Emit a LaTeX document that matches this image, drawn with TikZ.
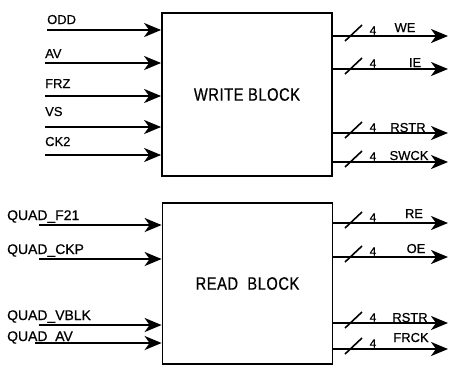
\documentclass[tikz,border=0pt]{standalone}
\usepackage{fontspec}
\setmainfont[FakeBold=0.6]{Liberation Sans}
\newfontfamily\blockfont[LetterSpace=3,FakeStretch=0.82,FakeBold=0.6]{Liberation Sans}
\usetikzlibrary{arrows.meta}
\begin{document}
\begin{tikzpicture}[x=1bp,y=-1bp,
  block/.style={draw, line width=1.8bp, inner sep=0pt, minimum width=170bp,
    font=\blockfont\fontsize{18}{20}\selectfont},
  sig/.style={line width=2bp, -{Stealth[length=17bp,width=14bp,inset=5bp]}},
  lbl/.style={font=\fontsize{13}{15}\selectfont, inner sep=0pt},
  qlbl/.style={lbl, font=\fontsize{14}{16}\selectfont},
  buswidth/.pic={
    \draw[line width=1.6bp] (-8,5) -- (9,-11);
    \node[lbl, font=\fontsize{12}{14}\selectfont, anchor=base] at (20,-1.5) {4};
  }]
\useasboundingbox (0,0) rectangle (450,367);

% blocks
\node[block, minimum height=163bp] (wb) at (247,94.5) {WRITE BLOCK};
\node[block, minimum height=161bp] (rb) at (247.5,283.5) {READ\ \ BLOCK};

% write inputs
\coordinate (iodd) at (47,30);
\coordinate (iav)  at (45,63);
\coordinate (ifrz) at (45,96);
\coordinate (ivs)  at (45,127);
\coordinate (ick)  at (45,155);
\draw[sig] (iodd) -- (iodd -| wb.west);
\draw[sig] (iav)  -- (iav  -| wb.west);
\draw[sig] (ifrz) -- (ifrz -| wb.west);
\draw[sig] (ivs)  -- (ivs  -| wb.west);
\draw[sig] (ick)  -- (ick  -| wb.west);
\node[lbl, anchor=base west] (lodd) at (47,24) {ODD};
\node[lbl, anchor=base west] (lav)  at (45,58) {AV};
\node[lbl, anchor=base west] (lfrz) at (45,88) {FRZ};
\node[lbl, anchor=base west] (lvs)  at (45,116) {VS};
\node[lbl, anchor=base west] (lck)  at (45,146) {CK2};

% write outputs
\coordinate (owe)  at (448,36);
\coordinate (oie)  at (448,69);
\coordinate (ors)  at (448,133);
\coordinate (osw)  at (448,162);
\draw[sig] (owe -| wb.east) -- (owe);
\draw[sig] (oie -| wb.east) -- (oie);
\draw[sig] (ors -| wb.east) -- (ors);
\draw[sig] (osw -| wb.east) -- (osw);
\pic at (353,36) {buswidth};
\pic at (353,69) {buswidth};
\pic at (353,133) {buswidth};
\pic at (353,162) {buswidth};
\node[lbl, anchor=base] (lwe) at (405,32) {WE};
\node[lbl, anchor=base] (lie) at (415,67) {IE};
\node[lbl, anchor=base] (lrs) at (408,132) {RSTR};
\node[lbl, anchor=base] (lsw) at (409,160) {SWCK};

% read inputs
\coordinate (if21)  at (39,225);
\coordinate (ickp)  at (39,259);
\coordinate (ivblk) at (39,325);
\coordinate (iqav)  at (35,343);
\draw[sig] (if21)  -- (if21  -| rb.west);
\draw[sig] (ickp)  -- (ickp  -| rb.west);
\draw[sig] (ivblk) -- (ivblk -| rb.west);
\draw[sig] (iqav)  -- (iqav  -| rb.west);
\node[qlbl, anchor=base west] (lf21)  at (7,220) {QUAD\_F21};
\node[qlbl, anchor=base west] (lckp)  at (7,254) {QUAD\_CKP};
\node[qlbl, anchor=base west] (lvblk) at (7,320) {QUAD\_VBLK};
\node[qlbl, anchor=base west] (lqav)  at (7,341) {QUAD\_AV};

% read outputs
\coordinate (ore)  at (448,223);
\coordinate (ooe)  at (448,257);
\coordinate (ors2) at (448,323);
\coordinate (ofr)  at (448,349);
\draw[sig] (ore  -| rb.east) -- (ore);
\draw[sig] (ooe  -| rb.east) -- (ooe);
\draw[sig] (ors2 -| rb.east) -- (ors2);
\draw[sig] (ofr  -| rb.east) -- (ofr);
\pic at (353,223) {buswidth};
\pic at (353,257) {buswidth};
\pic at (353,323) {buswidth};
\pic at (353,349) {buswidth};
\node[lbl, anchor=base] (lre)  at (414,218) {RE};
\node[lbl, anchor=base] (loe)  at (416,253) {OE};
\node[lbl, anchor=base] (lrs2) at (410,322) {RSTR};
\node[lbl, anchor=base] (lfr)  at (411,342) {FRCK};
\end{tikzpicture}
\end{document}
